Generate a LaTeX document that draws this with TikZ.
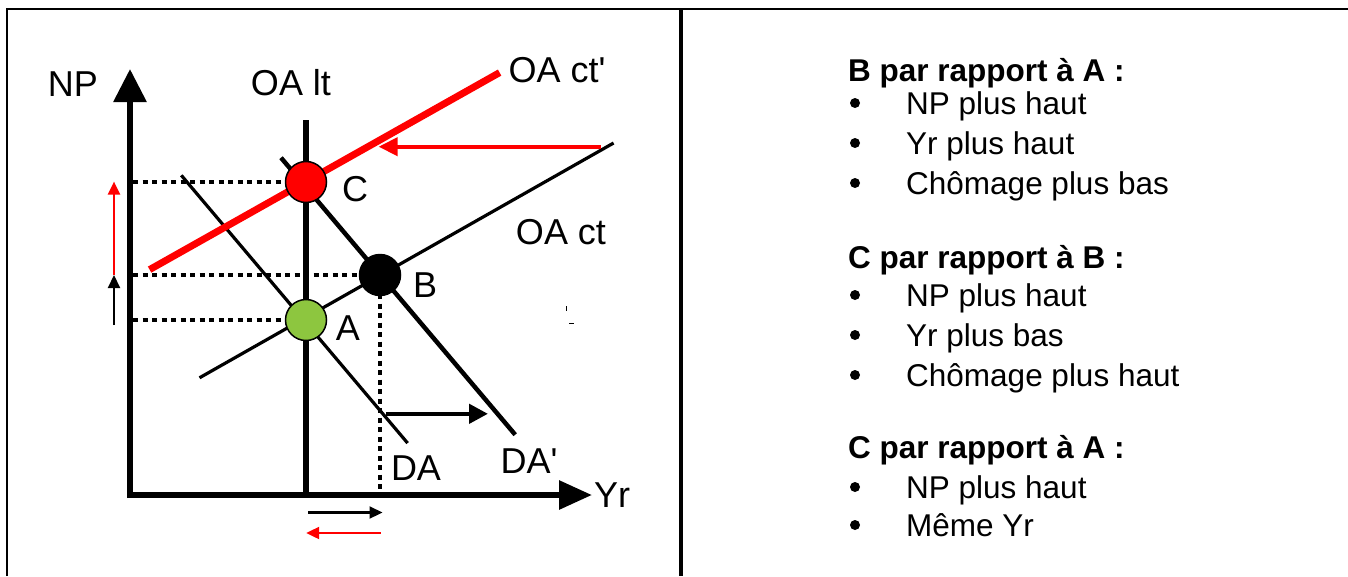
\documentclass[tikz,border=0pt]{standalone}
\usepackage{fontspec}
\setmainfont{Liberation Sans}
\usetikzlibrary{arrows.meta}
\definecolor{ptgreen}{RGB}{141,198,63}
\begin{document}
\begin{tikzpicture}[x=1pt,y=-1pt,
  lbl/.style={font=\fontsize{36}{40}\selectfont, inner sep=0pt},
  txt/.style={font=\fontsize{31.5}{36}\selectfont, anchor=base west, inner sep=0pt},
  hd/.style={font=\fontsize{31.5}{36}\selectfont\bfseries, anchor=base west, inner sep=0pt},
  dotline/.style={line width=3.5pt, dash pattern=on 5pt off 4.5pt},
  ptnode/.style={circle, draw=black, line width=1.5pt, minimum size=41pt, inner sep=0pt},
  bul/.style={circle, fill=black, minimum size=10pt, inner sep=0pt},
  smallarrow/.style={line width=2.2pt, -{Triangle[width=12pt,length=13pt]}},
]
\useasboundingbox (0,0) rectangle (1348,576);
% frame
\draw[line width=2.5pt] (7,576) -- (7,9) -- (1348,9);
\draw[line width=4.5pt] (681,9) -- (681,576);

% key coordinates
\coordinate (cA) at (306,320);
\coordinate (cB) at (380,275);
\coordinate (cC) at (306,182);
\coordinate (yA) at (133,320);
\coordinate (yB) at (133,275);
\coordinate (yC) at (133,182);
\coordinate (xB) at (380,493);

% axes
\draw[line width=6pt, -{Triangle[width=32pt,length=33pt]}] (130,498) -- (130,69);
\draw[line width=6pt, -{Triangle[width=28pt,length=33pt]}] (127,495) -- (592,495);
\node[lbl] (np) at (73,84) {NP};
\node[lbl] (yr) at (612,495) {Yr};

% OA lt
\coordinate (lt1) at (306,120);
\coordinate (lt2) at (306,495);
\draw[line width=6pt] (lt1) -- (lt2);
\node[lbl] (oalt) at (291,83) {OA lt};

% dotted guides
\draw[dotline] (yC) -- (cC);
\draw[dotline] (yB) -- (cB);
\draw[dotline] (yA) -- (cA);
\draw[dotline] (cB) -- (xB);

% curves
\coordinate (da1) at (181.3,175.3);
\coordinate (da2) at (407.6,443.1);
\coordinate (dap1) at (281,157.7);
\coordinate (dap2) at (515.2,434.7);
\coordinate (oa1) at (199.5,377.8);
\coordinate (oa2) at (613.6,143);
\coordinate (oap1) at (149.6,269.6);
\coordinate (oap2) at (499.6,72.6);
\draw[line width=3.2pt] (da1) -- (da2);
\draw[line width=4.5pt] (dap1) -- (dap2);
\draw[line width=3.2pt] (oa1) -- (oa2);
\draw[red, line width=7pt] (oap1) -- (oap2);

\node[lbl] (oactp) at (557,70) {OA ct\textquotesingle};
\node[lbl] (oact) at (561,232) {OA ct};
\node[lbl] (dalbl) at (416,468) {DA};
\node[lbl] (daplbl) at (529,461) {DA\textquotesingle};

% shift arrows
\coordinate (r1) at (600.6,146.7);
\coordinate (r2) at (378.6,146.7);
\draw[red, line width=4pt, -{Triangle[width=18pt,length=19pt]}] (r1) -- (r2);
\coordinate (k1) at (386,413.8);
\coordinate (k2) at (488,413.8);
\draw[line width=4.5pt, -{Triangle[width=19pt,length=19pt]}] (k1) -- (k2);

% side arrows
\coordinate (v0) at (114,325);
\coordinate (v1) at (114,275);
\coordinate (v2) at (114,181.6);
\draw[smallarrow, red] (v1) -- (v2);
\draw[smallarrow] (v0) -- (v1);
\coordinate (h1) at (308,512.5);
\coordinate (h2) at (382.5,512.5);
\coordinate (h3) at (380.7,533);
\coordinate (h4) at (306.2,533);
\draw[smallarrow] (h1) -- (h2);
\draw[smallarrow, red] (h3) -- (h4);

% points
\node[ptnode, fill=red] (C) at (cC) {};
\node[ptnode, fill=black] (B) at (cB) {};
\node[ptnode, fill=ptgreen] (A) at (cA) {};
\node[lbl] (Clbl) at (355,189) {C};
\node[lbl] (Blbl) at (425,285) {B};
\node[lbl] (Albl) at (348,328) {A};

% tiny marks
\coordinate (m1) at (566.3,306);
\coordinate (m2) at (566.3,311);
\coordinate (m3) at (569,323.3);
\coordinate (m4) at (574,323.3);
\draw[line width=1pt] (m1) -- (m2);
\draw[line width=1pt] (m3) -- (m4);

% right panel
\node[hd] (h1t) at (848,81) {B par rapport à A :};
\node[bul] (b11) at (855,103) {};
\node[txt] (t11) at (906,114) {NP plus haut};
\node[bul] (b12) at (855,143) {};
\node[txt] (t12) at (906,154) {Yr plus haut};
\node[bul] (b13) at (855,183) {};
\node[txt] (t13) at (906,194) {Chômage plus bas};

\node[hd] (h2t) at (848,268) {C par rapport à B :};
\node[bul] (b21) at (855,295) {};
\node[txt] (t21) at (906,306) {NP plus haut};
\node[bul] (b22) at (855,335) {};
\node[txt] (t22) at (906,346) {Yr plus bas};
\node[bul] (b23) at (855,375) {};
\node[txt] (t23) at (906,386) {Chômage plus haut};

\node[hd] (h3t) at (848,458) {C par rapport à A :};
\node[bul] (b31) at (855,487) {};
\node[txt] (t31) at (906,498) {NP plus haut};
\node[bul] (b32) at (855,525) {};
\node[txt] (t32) at (906,536) {Même Yr};
\end{tikzpicture}
\end{document}
